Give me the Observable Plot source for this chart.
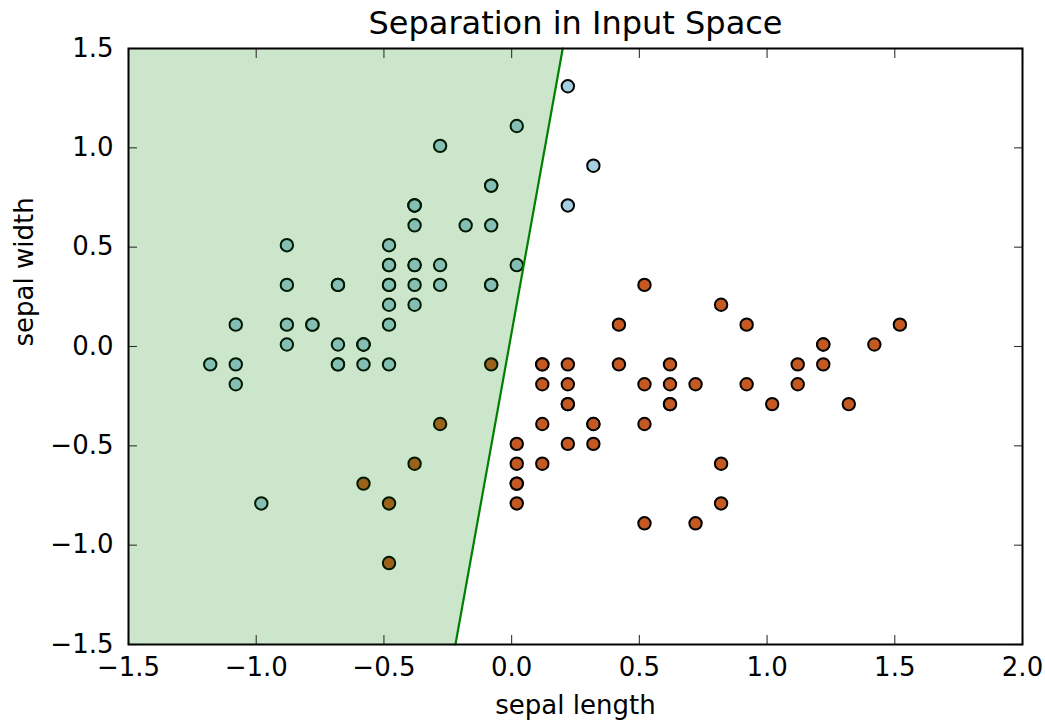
<!DOCTYPE html>
<html><head><meta charset="utf-8">
<script src="https://cdn.jsdelivr.net/npm/d3@7"></script>
<script src="https://cdn.jsdelivr.net/npm/@observablehq/plot@0.6"></script>
<style>body{margin:0;background:#fff} svg{display:block}</style>
</head><body><div id="chart"></div>
<script>
const setosaX = [-0.38,-0.58,-0.78,-0.88,-0.48,-0.08,-0.88,-0.48,-1.08,-0.58,-0.08,-0.68,-0.68,-1.18,0.32,0.22,-0.08,-0.38,0.22,-0.38,-0.08,-0.38,-0.88,-0.38,-0.68,-0.48,-0.48,-0.28,-0.28,-0.78,-0.68,-0.08,-0.28,0.02,-0.58,-0.48,0.02,-0.58,-1.08,-0.38,-0.48,-0.98,-1.08,-0.48,-0.38,-0.68,-0.38,-0.88,-0.18,-0.48];
const setosaY = [0.41,-0.09,0.11,0.01,0.51,0.81,0.31,0.31,-0.19,0.01,0.61,0.31,-0.09,-0.09,0.91,1.31,0.81,0.41,0.71,0.71,0.31,0.61,0.51,0.21,0.31,-0.09,0.31,0.41,0.31,0.11,0.01,0.31,1.01,1.11,0.01,0.11,0.41,0.01,-0.09,0.31,0.41,-0.79,0.11,0.41,0.71,-0.09,0.71,0.11,0.61,0.21];
const versicolorX = [1.52,0.92,1.42,0.02,1.02,0.22,0.82,-0.58,1.12,-0.28,-0.48,0.42,0.52,0.62,0.12,1.22,0.12,0.32,0.72,0.12,0.42,0.62,0.82,0.62,0.92,1.12,1.32,1.22,0.52,0.22,0.02,0.02,0.32,0.52,-0.08,0.52,1.22,0.82,0.12,0.02,0.02,0.62,0.32,-0.48,0.12,0.22,0.22,0.72,-0.38,0.22];
const versicolorY = [0.11,0.11,0.01,-0.79,-0.29,-0.29,0.21,-0.69,-0.19,-0.39,-1.09,-0.09,-0.89,-0.19,-0.19,0.01,-0.09,-0.39,-0.89,-0.59,0.11,-0.29,-0.59,-0.29,-0.19,-0.09,-0.29,-0.09,-0.19,-0.49,-0.69,-0.69,-0.39,-0.39,-0.09,0.31,0.01,-0.79,-0.09,-0.59,-0.49,-0.09,-0.49,-0.79,-0.39,-0.09,-0.19,-0.19,-0.59,-0.29];
// decision boundary endpoints
const boundaryX = [-0.22, 0.20];
const boundaryY = [-1.5, 1.5];
const xDomain = [-1.5, 2.0];
const yDomain = [-1.5, 1.5];
const xTicks = [-1.5, -1.0, -0.5, 0.0, 0.5, 1.0, 1.5, 2.0];
const yTicks = [-1.5, -1.0, -0.5, 0.0, 0.5, 1.0, 1.5];
const classColors = {setosa: "#a6cee3", versicolor: "#c45a22"};
const title = "Separation in Input Space";
const xLabel = "sepal length";
const yLabel = "sepal width";

const points = [
  ...setosaX.map((x, i) => ({x, y: setosaY[i], cls: "setosa"})),
  ...versicolorX.map((x, i) => ({x, y: versicolorY[i], cls: "versicolor"}))
];
const boundary = boundaryY.map((y, i) => ({x: boundaryX[i], y}));
const fmt = d3.format(".1f");

const plot = Plot.plot({
  width: 1045, height: 723,
  marginLeft: 128, marginRight: 23, marginTop: 48, marginBottom: 79,
  style: {fontFamily: "DejaVu Sans", fontSize: "26px", color: "#000", background: "#fff"},
  x: {domain: xDomain, label: null},
  y: {domain: yDomain, label: null},
  marks: [
    Plot.dot(points, {x: "x", y: "y", r: 6.2, fill: d => classColors[d.cls], stroke: "#000", strokeWidth: 2}),
    Plot.areaX(boundary, {x1: xDomain[0], x2: "x", y: "y", fill: "green", fillOpacity: 0.2}),
    Plot.line(boundary, {x: "x", y: "y", stroke: "green", strokeWidth: 2.2}),
    Plot.axisX(xTicks, {anchor: "bottom", tickSize: 0, tickPadding: 13, tickFormat: fmt, label: null, fontSize: 26}),
    Plot.axisY(yTicks, {anchor: "left", tickSize: 0, tickPadding: 15, tickFormat: fmt, label: null, fontSize: 26}),
    Plot.axisX(xTicks, {anchor: "bottom", tickSize: -9, tickFormat: () => "", label: null, stroke: "#333", strokeWidth: 1.1}),
    Plot.axisX(xTicks, {anchor: "top", tickSize: -9, tickFormat: () => "", label: null, stroke: "#333", strokeWidth: 1.1}),
    Plot.axisY(yTicks, {anchor: "left", tickSize: -9, tickFormat: () => "", label: null, stroke: "#333", strokeWidth: 1.1}),
    Plot.axisY(yTicks, {anchor: "right", tickSize: -9, tickFormat: () => "", label: null, stroke: "#333", strokeWidth: 1.1}),
    Plot.frame({stroke: "#000", strokeWidth: 2}),
    Plot.text([title], {text: d => d, frameAnchor: "top", lineAnchor: "middle", dy: -25, fontSize: 32, fill: "#000"}),
    Plot.text([xLabel], {text: d => d, frameAnchor: "bottom", lineAnchor: "middle", dy: 61, fontSize: 26, fill: "#000"}),
    Plot.text([yLabel], {text: d => d, frameAnchor: "left", dx: -104, rotate: -90, fontSize: 26, fill: "#000"})
  ]
});
document.getElementById("chart").appendChild(plot);
</script>
</body></html>
